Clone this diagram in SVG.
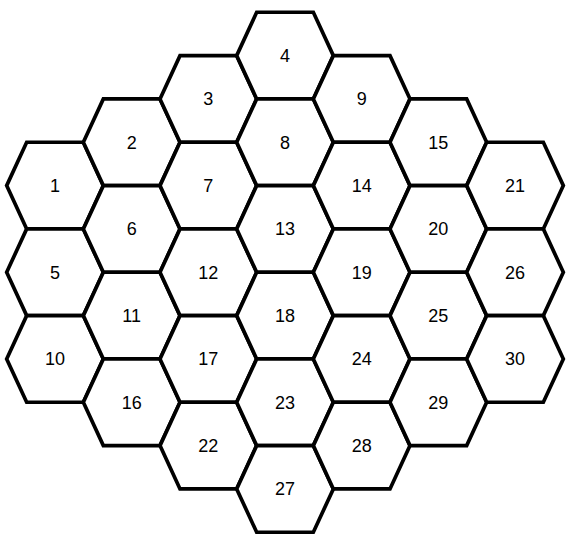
<svg xmlns="http://www.w3.org/2000/svg" width="568" height="540" viewBox="0 0 568 540">
<style>
.h{fill:#fff;stroke:#000;stroke-width:3.7;stroke-linejoin:miter}
.t{font-family:"Liberation Sans",Arial,sans-serif;font-size:18px;fill:#000;text-anchor:middle}
</style>
<defs>
<polygon id="hex" points="-48.33,0 -28.33,-43.33 28.33,-43.33 48.33,0 28.33,43.33 -28.33,43.33"/>
</defs>
<rect width="568" height="540" fill="#fff"/>
<g id="connectors"></g>
<g id="n1"><use href="#hex" class="h" x="55" y="185.6"/><text class="t" x="55" y="192">1</text></g>
<g id="n5"><use href="#hex" class="h" x="55" y="272.27"/><text class="t" x="55" y="278.67">5</text></g>
<g id="n10"><use href="#hex" class="h" x="55" y="358.93"/><text class="t" x="55" y="365.33">10</text></g>
<g id="n2"><use href="#hex" class="h" x="131.67" y="142.27"/><text class="t" x="131.67" y="148.67">2</text></g>
<g id="n6"><use href="#hex" class="h" x="131.67" y="228.93"/><text class="t" x="131.67" y="235.33">6</text></g>
<g id="n11"><use href="#hex" class="h" x="131.67" y="315.6"/><text class="t" x="131.67" y="322">11</text></g>
<g id="n16"><use href="#hex" class="h" x="131.67" y="402.27"/><text class="t" x="131.67" y="408.67">16</text></g>
<g id="n3"><use href="#hex" class="h" x="208.33" y="98.93"/><text class="t" x="208.33" y="105.33">3</text></g>
<g id="n7"><use href="#hex" class="h" x="208.33" y="185.6"/><text class="t" x="208.33" y="192">7</text></g>
<g id="n12"><use href="#hex" class="h" x="208.33" y="272.27"/><text class="t" x="208.33" y="278.67">12</text></g>
<g id="n17"><use href="#hex" class="h" x="208.33" y="358.93"/><text class="t" x="208.33" y="365.33">17</text></g>
<g id="n22"><use href="#hex" class="h" x="208.33" y="445.6"/><text class="t" x="208.33" y="452">22</text></g>
<g id="n4"><use href="#hex" class="h" x="285" y="55.6"/><text class="t" x="285" y="62">4</text></g>
<g id="n8"><use href="#hex" class="h" x="285" y="142.27"/><text class="t" x="285" y="148.67">8</text></g>
<g id="n13"><use href="#hex" class="h" x="285" y="228.93"/><text class="t" x="285" y="235.33">13</text></g>
<g id="n18"><use href="#hex" class="h" x="285" y="315.6"/><text class="t" x="285" y="322">18</text></g>
<g id="n23"><use href="#hex" class="h" x="285" y="402.27"/><text class="t" x="285" y="408.67">23</text></g>
<g id="n27"><use href="#hex" class="h" x="285" y="488.93"/><text class="t" x="285" y="495.33">27</text></g>
<g id="n9"><use href="#hex" class="h" x="361.67" y="98.93"/><text class="t" x="361.67" y="105.33">9</text></g>
<g id="n14"><use href="#hex" class="h" x="361.67" y="185.6"/><text class="t" x="361.67" y="192">14</text></g>
<g id="n19"><use href="#hex" class="h" x="361.67" y="272.27"/><text class="t" x="361.67" y="278.67">19</text></g>
<g id="n24"><use href="#hex" class="h" x="361.67" y="358.93"/><text class="t" x="361.67" y="365.33">24</text></g>
<g id="n28"><use href="#hex" class="h" x="361.67" y="445.6"/><text class="t" x="361.67" y="452">28</text></g>
<g id="n15"><use href="#hex" class="h" x="438.33" y="142.27"/><text class="t" x="438.33" y="148.67">15</text></g>
<g id="n20"><use href="#hex" class="h" x="438.33" y="228.93"/><text class="t" x="438.33" y="235.33">20</text></g>
<g id="n25"><use href="#hex" class="h" x="438.33" y="315.6"/><text class="t" x="438.33" y="322">25</text></g>
<g id="n29"><use href="#hex" class="h" x="438.33" y="402.27"/><text class="t" x="438.33" y="408.67">29</text></g>
<g id="n21"><use href="#hex" class="h" x="515" y="185.6"/><text class="t" x="515" y="192">21</text></g>
<g id="n26"><use href="#hex" class="h" x="515" y="272.27"/><text class="t" x="515" y="278.67">26</text></g>
<g id="n30"><use href="#hex" class="h" x="515" y="358.93"/><text class="t" x="515" y="365.33">30</text></g>
</svg>
